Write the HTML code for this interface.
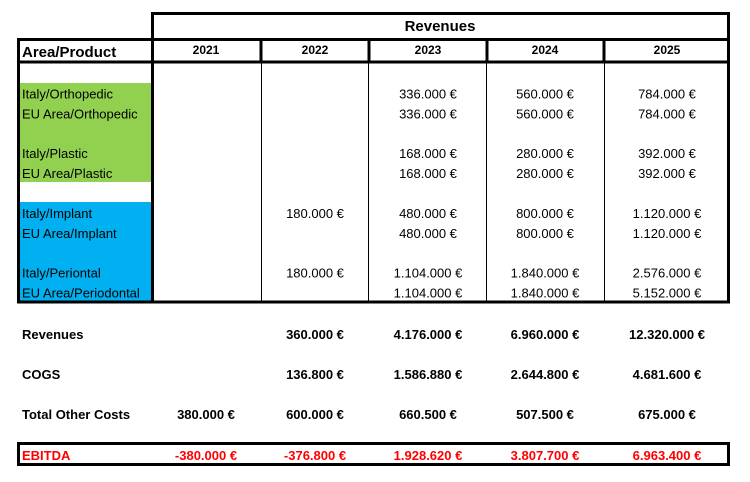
<!DOCTYPE html>
<html><head><meta charset="utf-8"><style>
html,body{margin:0;padding:0;background:#fff;width:750px;height:482px;overflow:hidden}
svg{display:block;font-family:"Liberation Sans",Carlito,sans-serif}
</style></head><body>
<svg id="t" width="750" height="482" viewBox="0 0 750 482">
<rect x="20" y="83" width="132" height="99" fill="#92D050"/>
<rect x="20" y="202" width="132" height="100" fill="#00B0F0"/>
<g stroke="#000" fill="none">
<line x1="152" y1="13.5" x2="730" y2="13.5" stroke-width="3"/>
<line x1="17" y1="39.5" x2="730" y2="39.5" stroke-width="3"/>
<line x1="17" y1="62" x2="730" y2="62" stroke-width="3"/>
<line x1="17" y1="302" x2="730" y2="302" stroke-width="3"/>
<line x1="18.5" y1="38" x2="18.5" y2="303" stroke-width="3"/>
<line x1="152.5" y1="12" x2="152.5" y2="303" stroke-width="3"/>
<line x1="728.5" y1="12" x2="728.5" y2="303" stroke-width="3"/>
<g stroke-width="3"><line x1="261" y1="39" x2="261" y2="62"/><line x1="369" y1="39" x2="369" y2="62"/><line x1="487" y1="39" x2="487" y2="62"/><line x1="604" y1="39" x2="604" y2="62"/></g>
<g stroke-width="1"><line x1="261.5" y1="62" x2="261.5" y2="302"/><line x1="368.5" y1="62" x2="368.5" y2="302"/><line x1="486.5" y1="62" x2="486.5" y2="302"/><line x1="604.5" y1="62" x2="604.5" y2="302"/></g>
<rect x="18.5" y="443.5" width="710" height="21" stroke-width="3"/>
</g>
<text x="440" y="31" text-anchor="middle" font-weight="bold" font-size="15">Revenues</text>
<text x="22" y="57" font-weight="bold" font-size="15">Area/Product</text>
</svg>
<script>
const years=["2021","2022","2023","2024","2025"];
const rowLabels=["Italy/Orthopedic","EU Area/Orthopedic","","Italy/Plastic","EU Area/Plastic","","Italy/Implant","EU Area/Implant","","Italy/Periontal","EU Area/Periodontal"];
const rowValues=[
["","","336.000 €","560.000 €","784.000 €"],
["","","336.000 €","560.000 €","784.000 €"],
["","","","",""],
["","","168.000 €","280.000 €","392.000 €"],
["","","168.000 €","280.000 €","392.000 €"],
["","","","",""],
["","180.000 €","480.000 €","800.000 €","1.120.000 €"],
["","","480.000 €","800.000 €","1.120.000 €"],
["","","","",""],
["","180.000 €","1.104.000 €","1.840.000 €","2.576.000 €"],
["","","1.104.000 €","1.840.000 €","5.152.000 €"]];
const sumLabels=["Revenues","COGS","Total Other Costs","EBITDA"];
const sumValues=[
["","360.000 €","4.176.000 €","6.960.000 €","12.320.000 €"],
["","136.800 €","1.586.880 €","2.644.800 €","4.681.600 €"],
["380.000 €","600.000 €","660.500 €","507.500 €","675.000 €"],
["-380.000 €","-376.800 €","1.928.620 €","3.807.700 €","6.963.400 €"]];
const colX=[206,315,428,545,667];
const svg=document.getElementById('t');
function txt(x,y,s,opts){const t=document.createElementNS('http://www.w3.org/2000/svg','text');t.setAttribute('x',x);t.setAttribute('y',y);t.textContent=s;t.setAttribute('font-size',opts.size||13);if(opts.bold)t.setAttribute('font-weight','bold');if(opts.mid)t.setAttribute('text-anchor','middle');t.setAttribute('fill',opts.fill||'#000');svg.appendChild(t);return t;}
years.forEach((y,i)=>{const t=txt(colX[i],54,y,{bold:1,mid:1,size:12});

});
rowLabels.forEach((l,r)=>{const cy=98.5+r*19.9;
if(l){const t=txt(22,cy,l,{});

}
rowValues[r].forEach((v,c)=>{if(!v)return;const t=txt(colX[c],cy,v,{mid:1});

});});
sumLabels.forEach((l,r)=>{const cy=r<3?339+r*40:460;const red=r===3;
const t=txt(22,cy,l,{bold:1,fill:red?'#FF0000':'#000'});


sumValues[r].forEach((v,c)=>{if(!v)return;const u=txt(colX[c],cy,v,{bold:1,mid:1,fill:red?'#FF0000':'#000'});

});});
</script>
</body></html>
